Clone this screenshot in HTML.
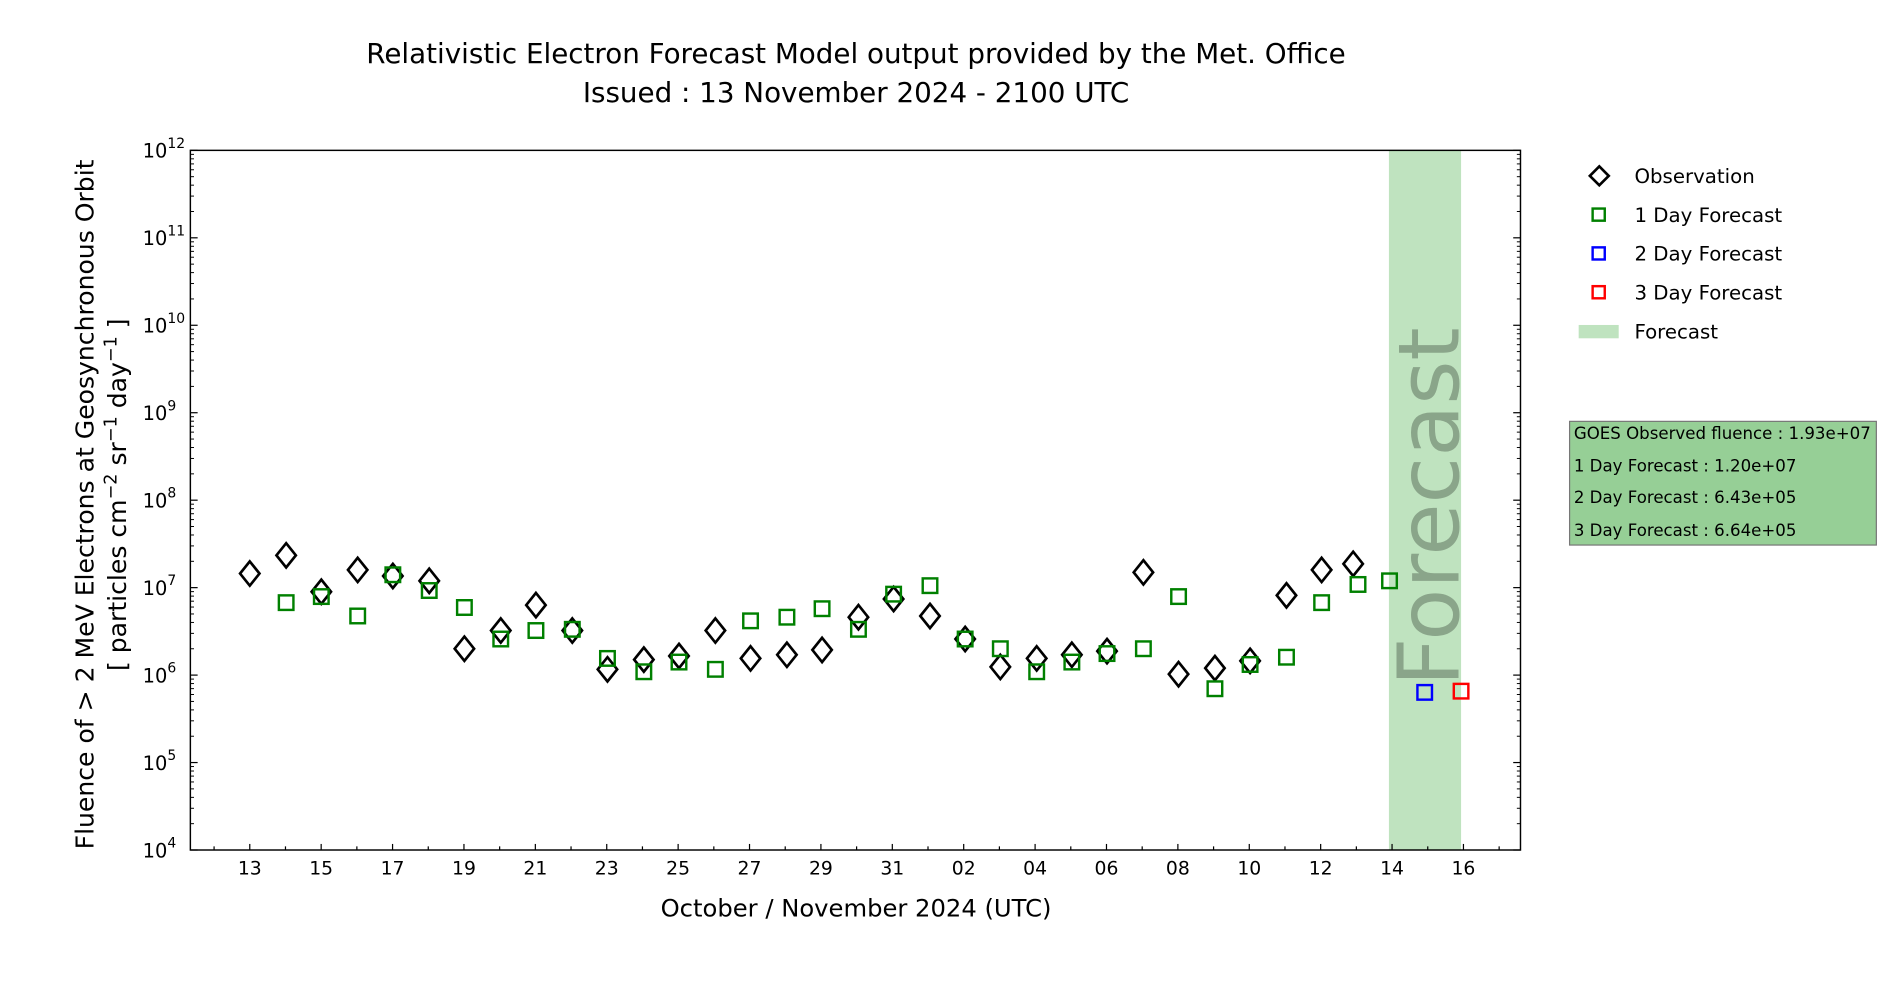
<!DOCTYPE html>
<html><head><meta charset="utf-8"><style>
html,body{margin:0;padding:0;background:#fff;width:1900px;height:1000px;overflow:hidden}
svg{display:block}
text{font-family:"DejaVu Sans","Liberation Sans",sans-serif;fill:#000}
</style></head><body>
<svg id="s" width="1900" height="1000" viewBox="0 0 1567 824.7" preserveAspectRatio="none" xmlns="http://www.w3.org/2000/svg">
<rect x="0" y="0" width="1567" height="825" fill="#fff"/>
<text x="706" y="52" font-size="22.9" text-anchor="middle">Relativistic Electron Forecast Model output provided by the Met. Office</text>
<text x="706" y="84" font-size="22.9" text-anchor="middle">Issued : 13 November 2024 - 2100 UTC</text>
<rect x="1145.5" y="124" width="59.5" height="577" fill="#bfe3bf"/>
<text transform="translate(1203,418) rotate(-90)" font-size="70" text-anchor="middle" style="fill:#8aa58a">Forecast</text>
<g id="g"></g>
<rect x="157" y="124" width="1097" height="577" fill="none" stroke="#000" stroke-width="1.2"/>
<text transform="translate(77,416) rotate(-90)" font-size="20.7" text-anchor="middle">Fluence of &gt; 2 MeV Electrons at Geosynchronous Orbit</text>
<text transform="translate(104,408) rotate(-90)" font-size="20.7" text-anchor="middle">[ particles cm<tspan dy="-8" font-size="14.5">−2</tspan><tspan dy="8"> sr</tspan><tspan dy="-8" font-size="14.5">−1</tspan><tspan dy="8"> day</tspan><tspan dy="-8" font-size="14.5">−1</tspan><tspan dy="8"> ]</tspan></text>
<text x="706" y="756" font-size="20" text-anchor="middle">October / November 2024 (UTC)</text>
<!-- legend -->
<rect x="1313.5" y="139.5" width="11" height="11" fill="none" stroke="#000" stroke-width="2.2" transform="rotate(45 1319 145)"/>
<rect x="1313.5" y="172" width="10" height="10" fill="none" stroke="#008000" stroke-width="2"/>
<rect x="1313.5" y="204" width="10" height="10" fill="none" stroke="#0000ff" stroke-width="2"/>
<rect x="1313.5" y="236" width="10" height="10" fill="none" stroke="#ff0000" stroke-width="2"/>
<rect x="1302" y="268" width="33" height="11" fill="#bfe3bf"/>
<text x="1348" y="151" font-size="16.3">Observation</text>
<text x="1348" y="183" font-size="16.3">1 Day Forecast</text>
<text x="1348" y="215" font-size="16.3">2 Day Forecast</text>
<text x="1348" y="247" font-size="16.3">3 Day Forecast</text>
<text x="1348" y="279" font-size="16.3">Forecast</text>
<rect x="1294.5" y="347.5" width="253" height="102" fill="#96cf96" stroke="#777" stroke-width="1"/>
<text x="1298" y="362" font-size="13.7">GOES Observed fluence : 1.93e+07</text>
<text x="1298" y="389" font-size="13.7">1 Day Forecast : 1.20e+07</text>
<text x="1298" y="415" font-size="13.7">2 Day Forecast : 6.43e+05</text>
<text x="1298" y="442" font-size="13.7">3 Day Forecast : 6.64e+05</text>
</svg>
<script>
var NS="http://www.w3.org/2000/svg",g=document.getElementById("g");
function el(n,a,t){var e=document.createElementNS(NS,n);for(var k in a)e.setAttribute(k,a[k]);if(t!==undefined)e.textContent=t;g.appendChild(e);return e;}
var L=157,R=1254,T=124,B=701,dec=(B-T)/8;
for(var p=4;p<=12;p++){
  var y=B-(p-4)*dec;
  el("line",{x1:L,x2:L+6,y1:y,y2:y,stroke:"#000","stroke-width":1});
  el("line",{x1:R-6,x2:R,y1:y,y2:y,stroke:"#000","stroke-width":1});
  el("text",{x:138,y:y+6,"font-size":16,"text-anchor":"end"},"10");
  el("text",{x:138,y:y-2,"font-size":11.5},String(p));
  if(p<12)for(var m=2;m<=9;m++){var ym=y-Math.log10(m)*dec;
    el("line",{x1:L,x2:L+3,y1:ym,y2:ym,stroke:"#000","stroke-width":0.8});
    el("line",{x1:R-3,x2:R,y1:ym,y2:ym,stroke:"#000","stroke-width":0.8});}
}
var labels=["13","15","17","19","21","23","25","27","29","31","02","04","06","08","10","12","14","16"];
for(var d=-1;d<=35;d++){
  var x=206+29.44*d; if(x<=L||x>=R)continue;
  var maj=(d%2===0);
  el("line",{x1:x,x2:x,y1:B,y2:B-(maj?5:3),stroke:"#000","stroke-width":1});
  if(maj&&d>=0&&d<=34)el("text",{x:x,y:B+20,"font-size":15.5,"text-anchor":"middle"},labels[d/2]);
}
var obs=[[206,473],[236,458],[265,488],[295,470],[324,475],[354,479],[383,535],[413,520],[442,499],[472,520],[501,552],[531,544],[560,541],[590,520],[619,543],[649,540],[678,536],[708,509],[737,494],[767,508],[796,527],[825,550],[855,543],[884,540],[913,537],[943,472],[972,556],[1002,551],[1031,545],[1061,491],[1090,470],[1116,465]];
var gr=[[236,497],[265,492],[295,508],[324,474],[354,487],[383,501],[413,527],[442,520],[472,519],[501,543],[531,554],[560,546],[590,552],[619,512],[649,509],[678,502],[708,519],[737,490],[767,483],[796,527],[825,535],[855,554],[884,546],[913,539],[943,535],[972,492],[1002,568],[1031,548],[1061,542],[1090,497],[1120,482],[1146,479]];
obs.forEach(function(q){el("path",{d:"M"+q[0]+" "+(q[1]-10)+"L"+(q[0]+8)+" "+q[1]+"L"+q[0]+" "+(q[1]+10)+"L"+(q[0]-8)+" "+q[1]+"Z",fill:"none",stroke:"#000","stroke-width":2.2});});
gr.forEach(function(q){el("rect",{x:q[0]-6,y:q[1]-6,width:12,height:12,fill:"none",stroke:"#008000","stroke-width":2});});
el("rect",{x:1169,y:565,width:12,height:12,fill:"none",stroke:"#0000ff","stroke-width":2});
el("rect",{x:1199,y:564,width:12,height:12,fill:"none",stroke:"#ff0000","stroke-width":2});
</script>
</body></html>
